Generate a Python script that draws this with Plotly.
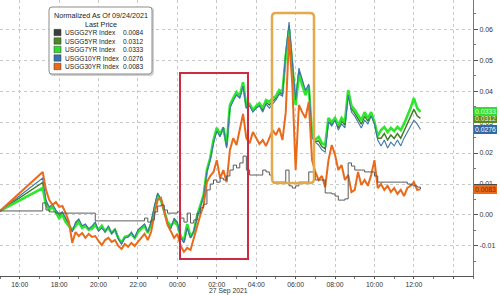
import pandas as pd
import plotly.graph_objects as go

# ---------------- data ----------------
start_time = ["2021-09-26 15:00"]
grid_times = list(pd.date_range("2021-09-26 17:10", "2021-09-27 12:20", freq="10min").strftime("%Y-%m-%d %H:%M"))
times = start_time + grid_times

series_names = ["USGG2YR Index", "USGG5YR Index", "USGG7YR Index", "USGG10YR Index", "USGG30YR Index"]
last_values = [0.0084, 0.0312, 0.0333, 0.0276, 0.0083]

usgg2 = [0.0013,
    0.0039, 0.0016, 0.0010, 0.0010, 0.0006, 0.0006, 0.0006, 0.0006, 0.0006, 0.0006,
    0.0006, 0.0006, 0.0006, 0.0006, 0.0006, 0.0006, -0.0019, -0.0019, -0.0019, -0.0019,
    -0.0019, -0.0019, -0.0019, -0.0019, -0.0019, -0.0019, -0.0019, -0.0019, -0.0019, -0.0019,
    -0.0019, -0.0010, -0.0023, -0.0016, 0.0010, 0.0029, 0.0032, 0.0016, 0.0006, 0.0006,
    0.0006, 0.0010, -0.0010, -0.0023, 0.0006, -0.0026, -0.0016, 0.0006, 0.0023, 0.0035,
    0.0081, 0.0100, 0.0113, 0.0106, 0.0119, 0.0113, 0.0126, 0.0145, 0.0161, 0.0152,
    0.0168, 0.0190, 0.0145, 0.0129, 0.0129, 0.0129, 0.0129, 0.0145, 0.0139, 0.0129,
    0.0106, 0.0106, 0.0106, 0.0106, 0.0145, 0.0094, 0.0087, 0.0094, 0.0106, 0.0106,
    0.0106, 0.0139, 0.0139, 0.0113, 0.0113, 0.0113, 0.0071, 0.0071, 0.0068, 0.0061,
    0.0048, 0.0048, 0.0052, 0.0168, 0.0158, 0.0145, 0.0145, 0.0145, 0.0139, 0.0139,
    0.0139, 0.0126, 0.0106, 0.0106, 0.0106, 0.0106, 0.0106, 0.0106, 0.0106, 0.0106,
    0.0106, 0.0100, 0.0097, 0.0094, 0.0090, 0.0084]

usgg5 = [0.0013,
    0.0105, 0.0040, 0.0021, 0.0030, 0.0013, -0.0003, 0.0005, -0.0016, -0.0032, -0.0051,
    -0.0029, -0.0018, -0.0039, -0.0032, -0.0047, -0.0040, -0.0027, -0.0050, -0.0039, -0.0054,
    -0.0039, -0.0060, -0.0047, -0.0076, -0.0092, -0.0072, -0.0070, -0.0058, -0.0074, -0.0052,
    -0.0042, -0.0032, -0.0057, -0.0026, 0.0022, 0.0066, 0.0050, 0.0013, -0.0026, -0.0040,
    -0.0016, -0.0028, -0.0071, -0.0087, -0.0035, -0.0073, -0.0054, -0.0006, 0.0029, 0.0063,
    0.0142, 0.0181, 0.0237, 0.0276, 0.0256, 0.0282, 0.0221, 0.0350, 0.0372, 0.0392,
    0.0381, 0.0422, 0.0346, 0.0355, 0.0335, 0.0348, 0.0356, 0.0338, 0.0364, 0.0355,
    0.0367, 0.0377, 0.0396, 0.0390, 0.0519, 0.0610, 0.0489, 0.0363, 0.0463, 0.0427,
    0.0395, 0.0419, 0.0253, 0.0238, 0.0239, 0.0221, 0.0214, 0.0306, 0.0293, 0.0309,
    0.0282, 0.0303, 0.0290, 0.0395, 0.0342, 0.0329, 0.0311, 0.0293, 0.0319, 0.0303,
    0.0325, 0.0297, 0.0248, 0.0248, 0.0263, 0.0242, 0.0258, 0.0247, 0.0263, 0.0248,
    0.0271, 0.0293, 0.0316, 0.0341, 0.0320, 0.0312]

usgg7 = [0.0013,
    0.0087, 0.0032, 0.0016, 0.0026, 0.0010, -0.0010, 0.0000, -0.0023, -0.0035, -0.0048,
    -0.0035, -0.0023, -0.0042, -0.0035, -0.0048, -0.0045, -0.0032, -0.0048, -0.0035, -0.0052,
    -0.0042, -0.0058, -0.0048, -0.0074, -0.0090, -0.0071, -0.0068, -0.0061, -0.0074, -0.0055,
    -0.0045, -0.0035, -0.0058, -0.0029, 0.0016, 0.0061, 0.0048, 0.0016, -0.0023, -0.0035,
    -0.0023, -0.0032, -0.0068, -0.0084, -0.0029, -0.0071, -0.0055, -0.0003, 0.0032, 0.0065,
    0.0145, 0.0184, 0.0242, 0.0281, 0.0261, 0.0281, 0.0226, 0.0355, 0.0377, 0.0397,
    0.0384, 0.0429, 0.0348, 0.0358, 0.0339, 0.0352, 0.0361, 0.0345, 0.0371, 0.0365,
    0.0377, 0.0384, 0.0403, 0.0397, 0.0513, 0.0597, 0.0484, 0.0355, 0.0452, 0.0419,
    0.0387, 0.0416, 0.0258, 0.0242, 0.0252, 0.0232, 0.0226, 0.0313, 0.0300, 0.0313,
    0.0290, 0.0313, 0.0300, 0.0403, 0.0352, 0.0339, 0.0323, 0.0306, 0.0332, 0.0313,
    0.0332, 0.0300, 0.0255, 0.0274, 0.0284, 0.0268, 0.0281, 0.0271, 0.0284, 0.0274,
    0.0294, 0.0319, 0.0345, 0.0377, 0.0345, 0.0333]

usgg10 = [0.0013,
    0.0119, 0.0048, 0.0026, 0.0035, 0.0016, 0.0003, 0.0010, -0.0010, -0.0029, -0.0055,
    -0.0023, -0.0013, -0.0035, -0.0029, -0.0045, -0.0035, -0.0023, -0.0052, -0.0042, -0.0055,
    -0.0035, -0.0061, -0.0045, -0.0077, -0.0094, -0.0074, -0.0071, -0.0055, -0.0074, -0.0048,
    -0.0039, -0.0029, -0.0055, -0.0023, 0.0029, 0.0071, 0.0052, 0.0010, -0.0029, -0.0045,
    -0.0010, -0.0023, -0.0074, -0.0090, -0.0042, -0.0074, -0.0052, -0.0010, 0.0026, 0.0061,
    0.0139, 0.0177, 0.0232, 0.0271, 0.0252, 0.0284, 0.0216, 0.0345, 0.0368, 0.0387,
    0.0377, 0.0416, 0.0345, 0.0352, 0.0332, 0.0345, 0.0352, 0.0332, 0.0358, 0.0345,
    0.0358, 0.0371, 0.0390, 0.0384, 0.0526, 0.0623, 0.0494, 0.0371, 0.0474, 0.0435,
    0.0403, 0.0423, 0.0248, 0.0235, 0.0226, 0.0210, 0.0203, 0.0300, 0.0287, 0.0306,
    0.0274, 0.0294, 0.0281, 0.0387, 0.0332, 0.0319, 0.0300, 0.0281, 0.0306, 0.0294,
    0.0319, 0.0294, 0.0242, 0.0223, 0.0242, 0.0216, 0.0235, 0.0223, 0.0242, 0.0223,
    0.0248, 0.0268, 0.0287, 0.0306, 0.0294, 0.0276]

usgg30 = [0.0013,
    0.0139, 0.0081, 0.0048, 0.0032, 0.0042, 0.0026, 0.0029, 0.0006, -0.0023, -0.0090,
    -0.0055, -0.0068, -0.0058, -0.0074, -0.0061, -0.0071, -0.0068, -0.0084, -0.0097, -0.0081,
    -0.0074, -0.0087, -0.0081, -0.0100, -0.0110, -0.0094, -0.0103, -0.0090, -0.0100, -0.0087,
    -0.0074, -0.0061, -0.0081, -0.0055, 0.0000, 0.0048, 0.0055, 0.0010, -0.0032, -0.0052,
    -0.0074, -0.0061, -0.0100, -0.0119, -0.0106, -0.0113, -0.0074, -0.0039, 0.0000, 0.0032,
    0.0106, 0.0126, 0.0139, 0.0177, 0.0119, 0.0145, 0.0106, 0.0210, 0.0248, 0.0226,
    0.0281, 0.0326, 0.0248, 0.0232, 0.0268, 0.0248, 0.0229, 0.0242, 0.0223, 0.0248,
    0.0274, 0.0258, 0.0281, 0.0242, 0.0332, 0.0577, 0.0419, 0.0145, 0.0355, 0.0332,
    0.0313, 0.0365, 0.0177, 0.0139, 0.0113, 0.0126, 0.0090, 0.0177, 0.0226, 0.0194,
    0.0145, 0.0161, 0.0113, 0.0129, 0.0074, 0.0081, 0.0139, 0.0097, 0.0113, 0.0094,
    0.0129, 0.0177, 0.0087, 0.0100, 0.0081, 0.0094, 0.0074, 0.0087, 0.0068, 0.0081,
    0.0061, 0.0087, 0.0094, 0.0106, 0.0081, 0.0083]

x_tick_vals = ["2021-09-26 16:00", "2021-09-26 18:00", "2021-09-26 20:00", "2021-09-26 22:00",
               "2021-09-27 00:00", "2021-09-27 02:00", "2021-09-27 04:00", "2021-09-27 06:00",
               "2021-09-27 08:00", "2021-09-27 10:00", "2021-09-27 12:00", "2021-09-27 14:00"]
x_tick_text = ["16:00", "18:00", "20:00", "22:00", "00:00", "02:00", "04:00", "06:00",
               "08:00", "10:00", "12:00", ""]
y_tick_vals = [-0.01, 0.00, 0.01, 0.02, 0.03, 0.04, 0.05, 0.06]
y_tick_text = ["-0.01", "0.00", "0.01", "0.02", "0.03", "0.04", "0.05", "0.06"]

# ---------------- styling ----------------
W, H = 500, 295
PL, PR, PT, PB = 0, 27, 0, 19
PW, PH = W - PL - PR, H - PT - PB
FONT = "Liberation Sans, Arial, sans-serif"

line_colors = ["#5a5a5a", "#3f7f22", "#2fe62f", "#3f74ad", "#ea6a1c"]
legend_colors = ["#3c3c3c", "#4a8a26", "#2ee02e", "#3a72b0", "#ea6a1c"]
tag_bg = ["#4a4a4a", "#5c8a1e", "#33dd33", "#2f6aa6", "#ec6a1a"]
tag_fg = ["#ffffff", "#e8f5d0", "#e8ffe8", "#ffffff", "#7a2a00"]
widths = [1.0, 1.5, 2.6, 1.1, 2.0]


def px(x):
    return (x - PL) / PW


def py(y):
    return (PT + PH - y) / PH


fig = go.Figure()
data_series = [usgg2, usgg5, usgg7, usgg10, usgg30]
draw_order = [1, 2, 3, 4, 0]
for k in draw_order:
    fig.add_trace(go.Scatter(
        x=times, y=data_series[k], mode="lines", name=series_names[k],
        line=dict(color=line_colors[k], width=widths[k], shape="hv" if k == 0 else "linear"),
        hoverinfo="skip", showlegend=False))

shapes = []
annotations = []


def rounded_path(x0, y0, x1, y1, r):
    rx, ry = r / PW, r / PH
    X0, X1 = px(x0), px(x1)
    Yt, Yb = py(y0), py(y1)
    return (f"M {X0+rx},{Yt} L {X1-rx},{Yt} Q {X1},{Yt} {X1},{Yt-ry} "
            f"L {X1},{Yb+ry} Q {X1},{Yb} {X1-rx},{Yb} L {X0+rx},{Yb} "
            f"Q {X0},{Yb} {X0},{Yb+ry} L {X0},{Yt-ry} Q {X0},{Yt} {X0+rx},{Yt} Z")


# highlight boxes
shapes.append(dict(type="rect", xref="x", yref="y",
                   x0="2021-09-27 00:08", x1="2021-09-27 03:35", y0=-0.0142, y1=0.0458,
                   line=dict(color="#cf2a40", width=2), fillcolor="rgba(0,0,0,0)"))
shapes.append(dict(type="path", xref="paper", yref="paper",
                   path=rounded_path(272, 13, 314, 183, 4),
                   line=dict(color="#e2aa4c", width=2.5), fillcolor="rgba(0,0,0,0)"))

# legend box
shapes.append(dict(type="path", xref="paper", yref="paper",
                   path=rounded_path(50, 8, 153, 75, 3),
                   line=dict(color="rgba(120,120,120,0.35)", width=2), fillcolor="rgba(0,0,0,0)"))
shapes.append(dict(type="path", xref="paper", yref="paper",
                   path=rounded_path(49, 7, 152, 74, 3),
                   line=dict(color="#8c8c8c", width=1), fillcolor="#ffffff"))

annotations.append(dict(xref="paper", yref="paper", x=px(100.5), y=py(15), text="Normalized As Of 09/24/2021",
                        showarrow=False, xanchor="center", yanchor="middle",
                        font=dict(family=FONT, size=7.2, color="#222222")))
annotations.append(dict(xref="paper", yref="paper", x=px(100.5), y=py(24), text="Last Price",
                        showarrow=False, xanchor="center", yanchor="middle",
                        font=dict(family=FONT, size=7.2, color="#222222")))
row_y = [32.5, 41, 49.5, 58, 66.5]
for k in range(5):
    yy = row_y[k]
    shapes.append(dict(type="rect", xref="paper", yref="paper",
                       x0=px(54), x1=px(61), y0=py(yy + 3.2), y1=py(yy - 3.2),
                       line=dict(color="#333333", width=0.5), fillcolor=legend_colors[k]))
    annotations.append(dict(xref="paper", yref="paper", x=px(62.5), y=py(yy), text=series_names[k],
                            showarrow=False, xanchor="left", yanchor="middle",
                            font=dict(family=FONT, size=6.6, color="#222222")))
    annotations.append(dict(xref="paper", yref="paper", x=px(121), y=py(yy), text=f"{last_values[k]:.4f}",
                            showarrow=False, xanchor="left", yanchor="middle",
                            font=dict(family=FONT, size=6.6, color="#222222")))

# right-hand last value tags
for k in [0, 1, 2, 3, 4]:
    annotations.append(dict(xref="paper", yref="y", x=1.0, y=last_values[k], xshift=1,
                            text=f"{last_values[k]:.4f}", showarrow=False,
                            xanchor="left", yanchor="middle", bgcolor=tag_bg[k],
                            bordercolor=tag_bg[k], borderpad=1, borderwidth=0,
                            font=dict(family=FONT, size=6.8, color=tag_fg[k])))

annotations.append(dict(xref="paper", yref="paper", x=px(228), y=py(291), text="27 Sep 2021",
                        showarrow=False, xanchor="center", yanchor="middle",
                        font=dict(family=FONT, size=6.8, color="#333333")))

grid = dict(showgrid=True, gridcolor="#c9c9c9", griddash="dot", gridwidth=1)

fig.update_layout(
    width=W, height=H,
    margin=dict(l=PL, r=PR, t=PT, b=PB),
    paper_bgcolor="#ffffff", plot_bgcolor="#ffffff",
    showlegend=False,
    shapes=shapes, annotations=annotations,
    xaxis=dict(type="date", range=["2021-09-26 15:00", "2021-09-27 15:00"],
               tickvals=x_tick_vals, ticktext=x_tick_text,
               ticks="outside", ticklen=2, tickcolor="#555555", showline=True,
               linecolor="#555555", linewidth=1, ticklabelstandoff=0,
               tickfont=dict(family=FONT, size=6.8, color="#333333"),
               minor=dict(dtick=3600 * 1000, ticks="outside", ticklen=2, tickcolor="#777777",
                          showgrid=False),
               zeroline=False, **grid),
    yaxis=dict(side="right", range=[-0.0197, 0.0694], tickvals=y_tick_vals, ticktext=y_tick_text,
               ticks="outside", ticklen=4, tickcolor="#555555", showline=True,
               linecolor="#777777", linewidth=1,
               tickfont=dict(family=FONT, size=7, color="#333333"),
               minor=dict(dtick=0.005, ticks="outside", ticklen=2, tickcolor="#777777",
                          showgrid=False),
               zeroline=False, **grid),
)

fig.write_html("out.html")
